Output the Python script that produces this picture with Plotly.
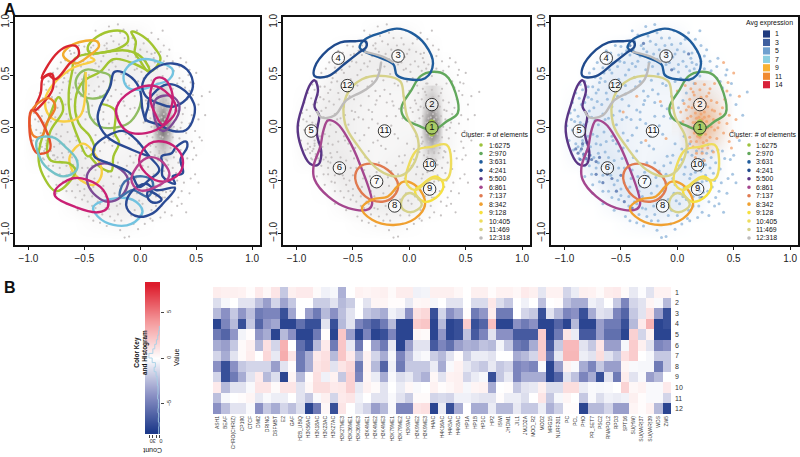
import plotly.graph_objects as go

W, H = 800, 457

# panel A: dots (cool = low expression, warm = high)
cool_dots = [
(-0.98,0.02),(-0.95,0.14),(-0.96,-0.12),(-0.93,0.24),(-0.92,-0.21),(-0.90,0.33),(-0.89,-0.05),(-0.88,0.11),(-0.87,-0.29),(-0.86,0.41),
(-0.85,0.22),(-0.84,-0.17),(-0.83,0.03),(-0.82,-0.36),(-0.81,0.31),(-0.80,0.48),(-0.79,-0.08),(-0.78,0.16),(-0.77,-0.26),(-0.76,-0.44),
(-0.75,0.39),(-0.74,0.56),(-0.73,0.07),(-0.72,-0.15),(-0.71,0.25),(-0.70,-0.33),(-0.69,-0.51),(-0.68,0.47),(-0.67,0.64),(-0.66,0.13),
(-0.65,-0.04),(-0.64,-0.23),(-0.63,0.33),(-0.62,-0.42),(-0.61,-0.60),(-0.60,0.55),(-0.59,0.71),(-0.58,0.20),(-0.57,-0.12),(-0.56,-0.31),
(-0.55,0.42),(-0.54,0.03),(-0.53,-0.50),(-0.52,-0.68),(-0.51,0.63),(-0.50,0.77),(-0.49,0.27),(-0.48,-0.19),(-0.47,-0.38),(-0.46,0.50),
(-0.45,0.10),(-0.44,-0.58),(-0.43,-0.74),(-0.42,0.69),(-0.41,0.35),(-0.40,-0.07),(-0.39,-0.28),(-0.38,0.82),(-0.37,0.58),(-0.36,0.17),
(-0.35,-0.46),(-0.34,-0.82),(-0.33,0.44),(-0.32,-0.14),(-0.31,-0.65),(-0.30,0.75),(-0.29,0.26),(-0.28,0.04),(-0.27,-0.33),(-0.26,0.87),
(-0.25,0.62),(-0.24,-0.53),(-0.23,-0.88),(-0.22,0.36),(-0.21,-0.20),(-0.20,0.11),(-0.19,0.79),(-0.18,-0.72),(-0.17,0.51),(-0.16,-0.41),
(-0.15,0.93),(-0.14,0.21),(-0.13,-0.06),(-0.12,-0.60),(-0.11,0.68),(-0.10,0.40),(-0.09,-0.27),(-0.08,-0.83),(-0.07,0.85),(-0.06,0.09),
(-0.05,0.30),(-0.04,-0.48),(-0.03,0.56),(-0.02,-0.15),(-0.01,-0.69),(0.00,0.74),(0.01,0.19),(0.02,-0.36),(0.03,0.47),(0.04,-0.91),
(0.05,0.63),(0.06,-0.57),(0.07,0.84),(0.08,0.33),(0.09,-0.23),(0.10,-0.78),(0.11,0.54),(0.12,-0.44),(0.13,0.71),(0.14,-0.65),
(0.15,0.42),(0.16,-0.31),(0.17,0.60),(0.18,-0.52),(0.19,-0.74),(0.20,0.49),(0.21,-0.41),(0.22,-0.23),(0.23,-0.61),(0.24,0.56),
(0.25,-0.35),(0.26,-0.50),(0.27,-0.16),(0.28,-0.70),(0.29,0.63),(0.30,-0.28),(0.31,-0.56),(0.32,-0.43),(0.34,-0.66),(0.35,0.47),
(0.36,-0.21),(0.38,-0.39),(0.39,-0.52),(0.40,0.38),(0.42,-0.29),(0.44,-0.62),(0.47,0.31),(0.49,-0.44),(0.62,0.34),(0.55,-0.12),
(-0.91,0.06),(-0.86,-0.22),(-0.83,-0.27),(-0.80,-0.31),(-0.88,-0.18),(-0.84,-0.12),(-0.78,-0.36),(-0.74,-0.28),(-0.72,-0.38),(-0.70,-0.24),
(-0.76,0.27),(-0.70,0.36),(-0.64,0.44),(-0.58,0.52),(-0.52,0.46),(-0.47,0.62),(-0.40,0.61),(-0.33,0.68),(-0.27,0.72),(-0.21,0.70),
(-0.16,0.74),(-0.10,0.60),(-0.04,0.67),(0.01,0.60),(-0.44,0.76),(-0.52,0.69),(-0.60,0.62),(-0.66,0.57),(-0.73,0.48),(-0.79,0.39),
(-0.66,-0.60),(-0.58,-0.66),(-0.50,-0.58),(-0.43,-0.65),(-0.36,-0.72),(-0.28,-0.77),(-0.20,-0.82),(-0.12,-0.75),(-0.05,-0.78),(0.02,-0.62),
(-0.75,-0.54),(-0.66,-0.45),(-0.58,-0.38),(-0.49,-0.29),(-0.41,-0.48),(-0.33,-0.55),(-0.26,-0.46),(-0.18,-0.55),(-0.10,-0.44),(-0.02,-0.54),
(0.06,-0.44),(0.13,-0.55),(0.08,-0.68),(0.17,-0.63),(0.04,-0.30),(0.11,-0.15),(0.06,-0.08),(-0.30,0.35),(-0.43,0.21),(-0.36,0.00),
(-0.24,-0.08),(-0.49,0.08),(-0.17,0.32),(-0.12,0.11),(-0.02,0.44),(0.05,0.26),(0.03,0.05),(-0.58,-0.08),(-0.52,-0.22),(-0.43,-0.36),
(-0.61,0.09),(-0.53,0.30),(-0.46,0.40),(-0.38,0.48),(-0.23,0.45),(-0.11,0.50),(-0.33,0.15),(-0.20,-0.33),(-0.06,-0.33),(0.13,0.62),
(-0.30,-0.93),(-0.18,-0.97),(-0.10,-1.03),(-0.14,-1.04),(-0.42,-0.88),(0.18,-0.85),(0.28,-0.83),(0.37,-0.72),(0.21,0.78),(0.20,0.92),
(0.36,0.66),(0.44,0.55),(0.10,0.90),(-0.28,0.96),(-0.20,0.98),(-0.40,0.92),(0.58,0.12),(0.52,0.22),(0.47,-0.30),(0.41,-0.80),
(-0.94,0.08),(-0.93,-0.02),(-0.91,0.17),(-0.90,-0.15),(-0.87,0.28),(-0.86,0.05),(-0.85,-0.08),(-0.84,0.36),(-0.82,0.24),(-0.81,-0.14),
(-0.80,0.06),(-0.79,0.29),(-0.77,-0.18),(-0.76,0.10),(-0.75,-0.06),(-0.74,0.19),(-0.72,0.33),(-0.71,-0.08),(-0.70,0.03),(-0.69,0.43),
(-0.68,-0.16),(-0.67,0.22),(-0.66,-0.36),(-0.65,0.52),(-0.64,0.08),(-0.63,-0.13),(-0.62,0.27),(-0.61,-0.28),(-0.60,0.38),(-0.59,-0.45),
(-0.58,0.62),(-0.57,0.12),(-0.56,-0.54),(-0.55,0.34),(-0.54,-0.15),(-0.53,0.58),(-0.52,-0.38),(-0.51,0.16),(-0.50,-0.64),(-0.49,0.70),
(-0.48,-0.05),(-0.47,-0.52),(-0.46,0.32),(-0.45,0.73),(-0.44,-0.12),(-0.43,0.55),(-0.42,-0.56),(-0.41,0.08),(-0.40,-0.40),(-0.39,0.74),
(-0.38,-0.70),(-0.37,0.39),(-0.36,-0.22),(-0.35,0.63),(-0.34,-0.60),(-0.33,0.08),(-0.32,0.78),(-0.31,-0.76),(-0.30,0.22),(-0.29,-0.42),
(-0.28,0.55),(-0.27,-0.84),(-0.26,0.30),(-0.25,-0.17),(-0.24,0.82),(-0.23,-0.62),(-0.22,0.58),(-0.21,-0.74),(-0.20,0.24),(-0.19,-0.47),
(-0.18,0.65),(-0.17,-0.88),(-0.16,0.02),(-0.15,-0.66),(-0.14,0.85),(-0.13,0.42),(-0.12,-0.36),(-0.11,0.78),(-0.10,-0.52),(-0.09,0.18),
(-0.08,-0.68),(-0.07,0.62),(-0.06,-0.91),(-0.05,0.79),(-0.04,-0.26),(-0.03,-0.62),(-0.02,0.70),(-0.01,-0.40),(0.00,-0.83),(0.01,0.53),
(0.02,-0.72),(0.03,0.80),(0.04,-0.20),(0.05,-0.65),(0.06,0.72),(0.07,-0.37),(0.08,0.58),(0.09,-0.86),(0.10,0.45),(0.11,-0.48),
(0.12,0.66),(0.13,-0.26),(0.14,-0.74),(0.15,0.56),(0.16,-0.42),(0.17,-0.22),(0.18,0.72),(0.19,-0.31),(0.20,-0.66),(0.21,0.63),
(0.22,-0.51),(0.23,-0.30),(0.24,0.68),(0.25,-0.45),(0.26,-0.24),(0.27,-0.60),(0.29,-0.38),(0.30,0.54),(0.31,-0.22),(0.33,-0.50),
(0.34,-0.33),(0.35,0.58),(0.37,-0.60),(0.38,0.44),(0.40,-0.22),(0.43,0.50),(0.45,-0.48),(0.50,-0.26),(0.52,-0.52),(0.48,0.42),
(-0.82,0.44),(-0.78,0.52),(-0.71,0.62),(-0.63,0.73),(-0.55,0.78),(-0.35,0.88),(-0.18,0.90),(-0.03,0.92),(0.16,0.84),(0.26,0.74),
(-0.82,-0.46),(-0.75,-0.62),(-0.66,-0.72),(-0.56,-0.78),(-0.46,-0.84),(-0.36,-0.90),(-0.02,-0.96),(0.11,-0.88),(0.22,-0.80),(0.33,-0.74),
]
warm_dots = [
(0.20,0.05),(0.18,0.02),(0.22,0.08),(0.17,0.09),(0.23,0.01),(0.19,-0.03),(0.21,0.13),(0.16,0.14),(0.24,0.15),(0.20,0.19),
(0.14,0.05),(0.26,0.06),(0.15,-0.05),(0.25,-0.06),(0.20,-0.09),(0.17,-0.13),(0.23,-0.14),(0.19,-0.19),(0.22,-0.24),(0.12,0.11),
(0.28,0.11),(0.13,0.19),(0.27,0.20),(0.18,0.25),(0.23,0.26),(0.15,0.31),(0.26,0.30),(0.20,0.36),(0.11,0.27),(0.30,0.26),
(0.10,0.01),(0.30,0.01),(0.09,0.09),(0.32,0.08),(0.11,-0.09),(0.29,-0.09),(0.33,0.16),(0.08,0.17),(0.35,0.24),(0.06,0.23),
(0.33,-0.02),(0.37,0.05),(0.05,0.06),(0.38,0.13),(0.40,0.19),(0.35,-0.10),(0.41,-0.05),(0.44,0.04),(0.46,0.12),(0.42,0.27),
(0.29,0.37),(0.24,0.41),(0.16,0.42),(0.33,0.42),(0.12,0.37),(0.03,0.15),(0.46,-0.13),(0.49,-0.03),(0.52,0.08),(0.45,0.43),
(0.50,0.52),(0.41,0.62),(0.14,-0.18),(0.27,-0.19),(0.09,-0.17),(0.32,-0.23),(0.16,-0.28),(0.24,-0.31),(0.48,-0.19),(0.53,-0.09),
(-0.05,0.19),(-0.15,0.25),(-0.28,-0.12),(0.00,0.35),(-0.36,0.30),(-0.10,-0.10),(0.07,0.40),(-0.48,0.15),(0.44,0.35),(0.55,0.30),
(0.19,0.10),(0.21,0.03),(0.16,0.05),(0.24,0.10),(0.18,-0.08),(0.22,-0.03),(0.15,0.22),(0.25,0.23),(0.21,0.29),(0.13,0.00),
(0.27,0.00),(0.31,0.17),(0.10,0.20),(0.36,0.00),(0.28,0.33),(0.14,0.34),(0.22,-0.19),(0.17,-0.24),(0.26,-0.12),(0.12,-0.13),
]
dark_dots = [
(-0.88,-0.24),(-0.85,-0.20),(-0.83,-0.25),(-0.80,-0.22),(-0.86,-0.30),(-0.81,-0.29),(-0.78,-0.26),(-0.76,-0.30),(-0.72,-0.32),(-0.69,-0.28),
(-0.84,-0.15),(-0.90,-0.20),(-0.62,-0.44),(-0.58,-0.48),(-0.54,-0.60),(-0.47,-0.70),(-0.40,-0.76),(-0.60,-0.35),(-0.66,-0.52),(-0.42,0.78),
(-0.30,0.80),(-0.10,0.72),(-0.05,0.55),(0.10,0.70),(0.20,-0.60),(0.22,-0.66),(0.18,-0.55),(-0.62,0.70),(-0.50,-0.45),(-0.72,-0.44),
]

# smoothed dot density, 0 to 10, estimated by eye on a 0.15 grid
density_x = [-1.05,-0.90,-0.75,-0.60,-0.45,-0.30,-0.15,0.00,0.15,0.30,0.45,0.60]
density_y = [1.05,0.90,0.75,0.60,0.45,0.30,0.15,0.00,-0.15,-0.30,-0.45,-0.60,-0.75,-0.90,-1.05]
density_z = [
[0,0,0,0,0,0,0,0,0,0,0,0],
[0,0,0,0,0,2,3,2,0,0,0,0],
[0,0,0,1,4,5,6,6,3,0,0,0],
[0,0,1,5,6,6,7,5,5,1,0,0],
[0,0,3,6,6,4,4,4,5,3,0,0],
[0,1,5,6,5,3,3,3,6,4,1,0],
[0,3,6,6,4,3,3,3,7,4,1,0],
[0,4,7,6,4,3,3,3,7,4,1,0],
[0,4,7,6,4,3,3,4,6,4,1,0],
[0,2,6,7,5,3,4,5,6,4,0,0],
[0,0,4,7,6,5,5,5,6,3,0,0],
[0,0,1,5,7,6,6,6,5,1,0,0],
[0,0,0,2,5,6,6,6,3,0,0,0],
[0,0,0,0,1,2,3,1,0,0,0,0],
[0,0,0,0,0,0,0,0,0,0,0,0],
]
core_x = [0.10,0.15,0.20,0.25,0.30]
core_y = [0.35,0.25,0.15,0.05,-0.05,-0.15,-0.25]
core_z = [
[0,0.1,0.2,0.1,0],
[0,0.2,0.4,0.2,0],
[0,0.35,0.7,0.35,0],
[0,0.6,1,0.6,0],
[0,0.5,0.9,0.5,0],
[0,0.25,0.5,0.25,0],
[0,0.1,0.2,0.1,0],
]
warm_x = [0.0,0.1,0.2,0.3,0.4,0.5]
warm_y = [0.4,0.3,0.2,0.1,0.0,-0.1,-0.2,-0.3]
warm_z = [
[0,0.1,0.2,0.1,0.05,0],
[0,0.15,0.35,0.2,0.1,0],
[0,0.2,0.55,0.4,0.15,0],
[0.05,0.3,0.8,0.6,0.2,0],
[0.05,0.3,0.9,0.6,0.2,0],
[0,0.2,0.7,0.4,0.15,0],
[0,0.1,0.3,0.15,0.05,0],
[0,0,0.05,0,0,0],
]

# cluster outlines of the middle and right panels
c1 = [(0.20,0.07),(0.24,0.0),(0.20,-0.07),(0.16,0.0)]
c2 = [(0.20,0.53),(0.32,0.50),(0.41,0.33),(0.43,0.14),(0.33,0.06),(0.21,-0.02),(0.08,0.02),(-0.04,0.09),(-0.07,0.19),(0.02,0.36),(0.10,0.49)]
c3 = [(-0.11,0.94),(0.02,0.90),(0.14,0.79),(0.21,0.61),(0.14,0.47),(-0.01,0.46),(-0.11,0.50),(-0.14,0.60),(-0.25,0.66),(-0.39,0.72),(-0.44,0.76),(-0.39,0.84),(-0.25,0.90)]
c4 = [(-0.39,0.82),(-0.38,0.77),(-0.45,0.71),(-0.57,0.61),(-0.72,0.49),(-0.84,0.49),(-0.84,0.57),(-0.72,0.74),(-0.61,0.81),(-0.48,0.82)]
c5 = [(-0.84,0.45),(-0.81,0.36),(-0.84,0.20),(-0.80,0.12),(-0.82,-0.05),(-0.78,-0.24),(-0.81,-0.35),(-0.88,-0.34),(-0.96,-0.18),(-0.99,0.01),(-0.94,0.23),(-0.88,0.41)]
c6 = [(-0.72,0.07),(-0.64,0.04),(-0.54,-0.11),(-0.44,-0.34),(-0.33,-0.72),(-0.36,-0.77),(-0.54,-0.76),(-0.72,-0.65),(-0.84,-0.49),(-0.85,-0.37),(-0.79,-0.18),(-0.76,-0.02)]
c7 = [(-0.33,-0.34),(-0.19,-0.40),(-0.10,-0.54),(-0.14,-0.65),(-0.24,-0.70),(-0.39,-0.65),(-0.48,-0.48),(-0.44,-0.37)]
c8 = [(-0.05,-0.51),(0.07,-0.56),(0.14,-0.72),(0.05,-0.86),(-0.14,-0.92),(-0.33,-0.87),(-0.42,-0.76),(-0.33,-0.68),(-0.19,-0.65),(-0.11,-0.56)]
c9 = [(0.23,-0.46),(0.30,-0.53),(0.26,-0.64),(0.13,-0.70),(0.05,-0.60),(0.11,-0.54)]
c10 = [(0.20,-0.18),(0.33,-0.16),(0.37,-0.30),(0.33,-0.49),(0.20,-0.48),(0.05,-0.59),(-0.03,-0.51),(0.0,-0.34),(0.07,-0.21)]
c11 = [(-0.21,0.49),(-0.08,0.44),(-0.05,0.30),(-0.02,0.11),(0.07,-0.08),(0.08,-0.21),(0.0,-0.40),(-0.11,-0.46),(-0.27,-0.40),(-0.45,-0.18),(-0.57,0.04),(-0.56,0.30),(-0.42,0.46)]
c11b = [(0.02,-0.62),(0.11,-0.73),(0.01,-0.80),(-0.07,-0.75),(-0.05,-0.65)]
c12a = [(-0.14,0.62),(-0.25,0.68),(-0.40,0.72)]
c12b = [(-0.25,0.62),(-0.29,0.46),(-0.39,0.36),(-0.56,0.26),(-0.66,0.12),(-0.78,0.10),(-0.82,0.16)]

cluster_names = ["1:6275","2:970","3:631","4:241","5:500","6:861","7:137","8:342","9:128","10:405","11:469","12:318"]
cluster_colors = ["#9cc23c","#62a85c","#1f5c9c","#1f4a8c","#5a3585","#a4468e","#e07a50","#f0a030","#f6e03e","#eedc5c","#d6d28a","#bdbbbb"]
cluster_centers_x = [0.20,0.20,-0.10,-0.63,-0.87,-0.62,-0.29,-0.13,0.18,0.18,-0.22,-0.55]
cluster_centers_y = [0.0,0.22,0.68,0.66,-0.03,-0.38,-0.51,-0.74,-0.58,-0.35,-0.03,0.40]
outlines = [(c1,0,True),(c2,1,True),(c3,2,True),(c4,3,True),(c5,4,True),(c6,5,True),(c7,6,True),(c8,7,True),(c9,8,True),(c10,9,True),
            (c11,10,True),(c11b,10,True),(c12a,11,False),(c12b,11,False)]

# left panel, every outline drawn over each other
lime, sage, yellow, amber, red, orange, teal, crimson, plum, sky, navy, steel = (
    "#a2c530","#90bd62","#f8ce44","#f2ad2e","#d9252f","#ee7f2a","#74c2c8","#c92074","#7d4b95","#72c3e0","#2a4a94","#3f6fa8")
left_outlines = [
([(-0.47,0.76),(-0.39,0.86),(-0.24,0.92),(-0.13,0.90),(-0.11,0.82),(-0.18,0.76),(-0.36,0.71),(-0.45,0.71)],lime,True),
([(-0.08,0.91),(0.02,0.87),(0.14,0.74),(0.18,0.65),(0.08,0.53),(-0.01,0.65),(-0.05,0.71),(-0.04,0.82)],lime,True),
([(-0.58,0.66),(-0.36,0.71),(-0.11,0.73),(0.02,0.66),(0.08,0.54),(-0.04,0.60),(-0.24,0.65),(-0.36,0.53),(-0.51,0.44),(-0.58,0.27),(-0.55,0.04),(-0.45,-0.08),(-0.41,-0.21),(-0.47,-0.27),(-0.55,-0.11),(-0.63,0.14),(-0.64,0.33),(-0.61,0.53)],lime,True),
([(-0.36,0.53),(-0.27,0.49),(-0.30,0.33),(-0.39,0.28),(-0.51,0.30),(-0.57,0.38),(-0.57,0.47),(-0.49,0.55)],sage,True),
([(-0.49,0.53),(-0.51,0.36),(-0.47,0.23),(-0.45,0.11),(-0.36,0.01),(-0.24,0.0),(-0.11,0.04),(-0.02,0.16),(0.01,0.27)],sage,False),
([(-0.36,0.23),(-0.23,0.17),(-0.23,-0.05),(-0.19,-0.14),(-0.24,-0.27),(-0.26,-0.41),(-0.36,-0.37),(-0.45,-0.27)],lime,False),
([(-0.45,0.67),(-0.41,0.64),(-0.60,0.57),(-0.78,0.41),(-0.85,0.27),(-0.81,0.11),(-0.69,0.06),(-0.54,0.11),(-0.49,0.33),(-0.49,0.53)],yellow,False),
([(-0.69,0.69),(-0.60,0.79),(-0.39,0.82),(-0.37,0.77),(-0.45,0.69),(-0.58,0.61)],amber,True),
([(-0.63,-0.27),(-0.51,-0.15),(-0.36,-0.34),(-0.35,-0.46),(-0.42,-0.54),(-0.54,-0.49),(-0.61,-0.40)],yellow,True),
([(-0.73,0.29),(-0.69,0.17),(-0.81,-0.05),(-0.81,-0.30),(-0.63,-0.34),(-0.58,-0.41),(-0.75,-0.60),(-0.87,-0.45),(-0.91,-0.26),(-0.82,0.08)],lime,True),
([(-0.88,0.47),(-0.76,0.69),(-0.66,0.77),(-0.57,0.77),(-0.55,0.69),(-0.63,0.61),(-0.76,0.46),(-0.82,0.50)],red,True),
([(-0.87,0.47),(-0.79,0.51),(-0.78,0.38),(-0.84,0.27),(-0.95,0.16),(-0.89,0.33)],red,True),
([(-0.92,0.23),(-0.81,0.28),(-0.76,0.20),(-0.84,0.04),(-0.88,-0.08),(-0.95,-0.08),(-0.99,0.04),(-0.98,0.14)],orange,True),
([(-0.97,0.17),(-0.87,0.04),(-0.81,-0.21),(-0.92,-0.24),(-0.98,-0.11)],"#e5502c",True),
([(-0.92,-0.11),(-0.78,-0.09),(-0.67,-0.18),(-0.57,-0.30),(-0.57,-0.40),(-0.69,-0.46),(-0.81,-0.40),(-0.89,-0.30)],teal,True),
([(-0.42,-0.75),(-0.24,-0.67),(-0.07,-0.68),(0.02,-0.79),(-0.08,-0.91),(-0.24,-0.92),(-0.38,-0.84)],sky,True),
([(-0.47,-0.43),(-0.36,-0.34),(-0.21,-0.37),(-0.11,-0.49),(-0.17,-0.65),(-0.29,-0.70),(-0.39,-0.65),(-0.47,-0.53)],plum,True),
([(-0.76,-0.59),(-0.61,-0.48),(-0.48,-0.49),(-0.33,-0.59),(-0.29,-0.75),(-0.38,-0.80),(-0.58,-0.75),(-0.76,-0.65)],crimson,True),
([(-0.18,-0.65),(-0.14,-0.51),(0.02,-0.46),(0.11,-0.51),(0.07,-0.65),(-0.07,-0.59)],steel,True),
([(-0.09,-0.62),(0.05,-0.53),(0.14,-0.59),(0.31,-0.57),(0.20,-0.72),(0.11,-0.81),(-0.02,-0.84),(-0.12,-0.76)],navy,True),
([(0.07,-0.60),(0.19,-0.68),(0.13,-0.71),(0.07,-0.67)],navy,True),
([(0.19,-0.27),(0.28,-0.24),(0.32,-0.18),(0.41,-0.13),(0.42,-0.18),(0.36,-0.30),(0.38,-0.43),(0.29,-0.46),(0.31,-0.53),(0.20,-0.46),(0.20,-0.34)],navy,True),
([(-0.41,-0.18),(-0.30,-0.08),(-0.15,-0.03),(-0.04,-0.11),(0.08,-0.27),(0.17,-0.40),(0.08,-0.49),(-0.01,-0.56),(-0.09,-0.43),(-0.27,-0.34),(-0.41,-0.27)],navy,True),
([(0.05,0.06),(0.02,0.17),(-0.01,0.38),(-0.11,0.50),(-0.23,0.53),(-0.27,0.39),(-0.36,0.20),(-0.38,0.08),(-0.30,-0.08),(-0.07,-0.21),(0.08,-0.27)],navy,False),
([(-0.12,0.57),(0.02,0.65),(0.20,0.61),(0.29,0.55),(0.26,0.46),(0.14,0.41),(-0.01,0.36),(-0.11,0.38),(-0.15,0.47)],sky,True),
([(0.02,0.42),(0.14,0.57),(0.29,0.61),(0.42,0.55),(0.47,0.39),(0.41,0.27),(0.29,0.20),(0.17,0.23),(0.05,0.30)],navy,True),
([(0.08,0.27),(0.23,0.41),(0.36,0.38),(0.48,0.23),(0.48,0.11),(0.41,-0.02),(0.29,-0.03),(0.17,0.03),(0.05,0.08),(0.07,0.20)],navy,True),
([(0.14,0.27),(0.28,0.30),(0.35,0.20),(0.29,0.04),(0.20,-0.03),(0.13,0.08)],plum,True),
([(-0.21,0.20),(-0.09,0.34),(0.11,0.40),(0.26,0.31),(0.32,0.17),(0.23,0.04),(0.05,-0.05),(-0.12,-0.03),(-0.21,0.11)],crimson,True),
([(0.14,0.47),(0.22,0.46),(0.29,0.30),(0.26,0.14),(0.20,0.03),(0.13,0.14),(0.09,0.27),(0.11,0.42)],crimson,True),
([(-0.01,-0.30),(0.08,-0.15),(0.20,-0.13),(0.32,-0.19),(0.38,-0.30),(0.35,-0.43),(0.20,-0.51),(0.05,-0.43)],crimson,True),
([(-0.08,-0.49),(0.05,-0.29),(0.17,-0.30),(0.26,-0.45),(0.14,-0.56),(-0.01,-0.59)],"#b8408e",True),
]

expr_labels = ["1","3","5","7","9","11","14"]
expr_colors = ["#1f3a7e","#3f5f9f","#6fa0cf","#8ccfe0","#f9b233","#f08a30","#d8223a"]

# panel B
marks = ["ASH1","BEAF","CHRO(CHRIZ)","CP190","CTCF","DMI2","DRING","DSFMBT","E2","GAF","H2B_UBIQ","H3K56AC","H3K18AC","H3K23AC","H3K27AC",
         "H3K27ME3","H3K36ME1","H3K36ME3","H3K4ME1","H3K4ME2","H3K4ME3","H3K79ME1","H3K79ME2","H3K9AC","H3K9ME2","H3K9ME3","H4AC","H4K16AC",
         "H4K5AC","H4K8AC","HP1A","HP1B","HP1C","HP2","ISWI","JHDM1","JIL1","JMJD2A","MOD_R2","MOD2","MRG15","NURF301","PC","PCL","PHO",
         "PR_SET7","PSC2","RNAPOL2","RPD3","SPT16","SU(HW)","SU(VAR)37","SU(VAR)39","WDS","ZW5"]
rows = ["1","2","3","4","5","6","7","8","9","10","11","12"]
heat = [
[.7,.6,.6,.5,.1,.8,.3,1,-2,.6,.8,.8,.2,-.5,-.3,-2.8,0,.5,.4,.5,.6,.2,.7,.7,-.5,-.4, .6,.6,.6,.3,0,.6,.6,.1,.5,.5,.3,.8,.6,-.9,.5,.5,-1.5,-.7,.6,.5,.2,.7,.8,.2,-.8,-.1,-1,.5,.5],
[-1.2,-.3,0,-1,-1,-2.3,-3.5,-1.5,-3.3,-2,0,0,-1.8,-1.8,-1,-2.5,-1.8,0,-1,.4,.4,.1,.1,-.8,.3,.4, -.3,0,-1,-1,0,-1.3,-1.3,.9,-1.2,-2,0,-.5,0,-2.3,0,.1,-2.2,-3,-3,-.5,-.9,0,-2,-4.5,-1.5,-1,.4,-.2,-2.5],
[-2.5,-4,-2,-3.8,-2.3,-5,-4.5,-4.5,-7,-3.2,0,-3.5,-5,-2.5,-4,-2.3,-1,0,-2,-2.5,-3,-.5,-1,-4,1.2,1.5, -7,-1.5,-4,-3,.1,-5,-3.8,.7,-5,-5,0,-1.5,-2,-7,-1,-2.5,-4.5,-4,-7,-3,-1,-1.3,-4.5,-6,-2,-1,1.2,-3.5,-7],
[-7.5,-4.5,-2.5,-7,-2,-6,-3.8,-3.2,-7.5,-7.5,-5.5,-7,-7,-1,-7,-2.5,-1,-4.5,-5.5,-6.5,-5,-2.5,-7.5,-7.5,2,2.2, -7.5,-2.5,-7.5,-7,2,-7,-6,2.5,-7.5,-7.5,-4,-5,-4,-7.5,-7.5,-6,-7.5,-2.5,-7.5,-7.5,-3.5,-5,-5,-7,-2.5,.8,3,-7.5,-7],
[-5,-6,-3.8,-.4,.1,-3.8,-3,-7.5,-2.5,-4,-7.5,-7.5,-5,.1,-7.5,2.2,-3.5,-7.5,-4.5,-7.5,-7,-4.5,-7.5,-7.5,.3,.2, -7.5,-3.8,-7.5,-7,-2.2,-6.5,-4.5,-1,-4,-4,-6.5,-6.5,-6.5,2,-7.5,-5,1,-.7,-6.5,-6.5,-3.5,-5.5,-5.5,-7.5,1.8,-1.5,.5,-7.5,-7.5],
[-3,-3.5,-2,.2,.6,-2.5,1.2,-1.5,3,0,-5.5,-7,-2.5,.8,-5,2.2,-.8,-5,0,-3.5,-5,-.8,-7.5,-3.5,-1,-1, -6.5,-4.5,-5.5,-3.5,-2.8,-3,-2.2,-2.5,-.4,-2,-5,-5.5,-3,2,-6.5,-2,2.7,2.7,-1,-2,1,-3.5,-3.5,-.3,2,.6,-1,-4.5,-4],
[-1.5,-3,-1,.2,.7,0,1.5,-.8,3.2,1,-5,-3,.8,1.2,-2.5,2.2,.8,-2.5,.5,-1.5,-3,-.3,-4.5,-2.3,-.5,-.2, -1.8,-2.5,-1,.1,-1.8,-.7,-.7,-1,0,0,-3,-2.5,-1.5,2,-5,-.8,2.8,2.8,-.6,-1,1.3,-1,-2,1.2,2,0,-.3,-2,-2],
[-4,-7,-4,-2,-1.5,-1.5,-1.5,-3.5,-1,.1,-5,-3,1,1.3,-1,1,1.5,-5,.5,-2.5,-6,-.5,-5,-2,-2,-2, -.7,-3,-.2,.5,-.8,-1.5,-2,-.8,-2,-1.5,-4.5,-4,-4.5,-.2,-7.5,-3.5,.5,-.2,-3,-4.5,-2,-3.5,-3.5,.4,-.2,-.3,-.3,-5,-2],
[-1.5,-7,-5,-3,-1,.8,-2.5,-1.2,-7.5,.4,-2.5,.1,1.2,-.5,.5,-2,1.8,-4.5,.4,-.7,-3,-.2,-1.2,-.8,-2,-2.8, .3,-1,.5,.6,-1.5,-.7,-.3,-7,-2,-.8,-4.5,-3,-3,-3,-7.5,-6,-1,-2.2,-4.5,-3,-7,-1,-5,.7,-1,-.2,-3.5,-2.5,0],
[.8,-2.5,-1,-1,-.2,1,1,.2,1,1,-1,.3,1.3,1.3,.8,.9,1.8,-.8,.5,.2,-1,0,-.7,.3,-.2,0, .5,.1,.3,.6,-.3,.4,.5,-3,0,.1,-2,-1,-.8,.6,-1.2,-1.2,1.3,1.3,-.7,-.2,-.3,-.2,0,1.7,.3,.5,-.2,-.2,.8],
[-2.3,-.3,0,.1,.4,-.8,-.2,-.6,-.6,0,-1,-2,-.2,.6,-1.5,.8,1,-.5,0,-1,-1,-.2,-1,-1.8,.2,.2, -1.5,-1.3,-1.5,-.5,-.5,-.8,-1,-1,.1,-.6,-.6,-1.2,0,1,-2,-.3,.4,0,-2,-.2,-1.2,-.5,-.7,-.5,.6,.1,-.2,-.2,-1.5],
[-4,-2.3,-1,-1,-.2,-4,-2,-3,-1.5,-2.3,-1.2,-7.5,-5,.3,-7,1,0,-.8,-1.5,-3.5,-2.5,-.2,-4.5,-4.5,1,1.2, -7.5,-.7,-7,-3,0,-3,-3,-.7,-2.5,-2.5,-.8,-2,-2,-.6,-2.8,-1.7,.1,.1,-7.5,-2.5,-2.5,-1.5,-3.5,-3.5,.4,.1,.5,-2.5,-7.5],
]
key_values = [-8.3,-6,-4,-2,0,2,4,6,8.3]
hist_values = [-8.3,-7.5,-7,-6.5,-6,-5.5,-5,-4.5,-4,-3.5,-3,-2.5,-2,-1.5,-1,-0.5,0,0.5,1,1.5,2,2.5,3,3.5]
hist_counts = [1,2,1,3,2,4,3,3,5,4,4,6,7,10,16,12,22,32,20,14,9,5,2,0]
heat_scale = [[0,"#1d3a8a"],[0.25,"#8a90c4"],[0.5,"#ffffff"],[0.75,"#f4989a"],[1,"#dd1c2c"]]


def dom_x(a, b):
    return [a / W, b / W]


def dom_y(top, bottom):
    return [1 - bottom / H, 1 - top / H]


FONT = "Liberation Sans"
fig = go.Figure()


def add_dots(ax, dots, color, size, opacity=1.0):
    fig.add_trace(go.Scatter(x=[p[0] for p in dots], y=[p[1] for p in dots], mode="markers", xaxis="x" + ax, yaxis="y" + ax,
                             marker=dict(color=color, size=size, line=dict(width=0)), opacity=opacity, showlegend=False, hoverinfo="skip"))


def add_density(ax, x, y, z, color, zmax=1.0):
    fig.add_trace(go.Heatmap(x=x, y=y, z=z, xaxis="x" + ax, yaxis="y" + ax, zsmooth="best", zmin=0, zmax=zmax, showscale=False,
                             colorscale=[[0, "rgba(%s,0)" % color[0]], [1, "rgba(%s,%s)" % (color[0], color[1])]], hoverinfo="skip"))


def add_outline(ax, pts, color, closed):
    p = pts + pts[:1] if closed else pts
    fig.add_trace(go.Scatter(x=[q[0] for q in p], y=[q[1] for q in p], mode="lines", xaxis="x" + ax, yaxis="y" + ax,
                             line=dict(color=color, width=2.4, shape="spline", smoothing=1.1), showlegend=False, hoverinfo="skip"))


def add_badges(ax):
    fig.add_trace(go.Scatter(x=cluster_centers_x, y=cluster_centers_y, mode="markers+text", xaxis="x" + ax, yaxis="y" + ax,
                             text=[str(i + 1) for i in range(12)], textposition="middle center",
                             textfont=dict(family=FONT, size=9.5, color="#111"),
                             marker=dict(size=12.5, color=["#a8cc66"] + ["rgba(255,255,255,0.65)"] * 11, line=dict(color="#222", width=0.9)),
                             showlegend=False, hoverinfo="skip"))


all_dots = cool_dots + warm_dots + dark_dots

# left panel
add_density("", density_x, density_y, density_z, ("190,186,186", 0.42), 10)
add_density("", core_x, core_y, core_z, ("105,100,100", 0.9))
add_dots("", all_dots, "#c6c2c2", 2.2)
for pts, col, closed in left_outlines:
    add_outline("", pts, col, closed)

# middle panel
add_density("2", density_x, density_y, density_z, ("190,186,186", 0.42), 10)
add_density("2", core_x, core_y, core_z, ("105,100,100", 0.9))
add_dots("2", all_dots, "#c6c2c2", 2.2)
for pts, i, closed in outlines:
    add_outline("2", pts, cluster_colors[i], closed)
add_badges("2")

# right panel
add_density("3", density_x, density_y, density_z, ("120,160,210", 0.32), 10)
add_density("3", warm_x, warm_y, warm_z, ("240,150,80", 0.75))
add_dots("3", cool_dots, "#7ba8d4", 3.0, 0.65)
add_dots("3", warm_dots, "#f2a06a", 3.0, 0.75)
add_dots("3", dark_dots, "#3f62a4", 3.2, 0.7)
for pts, i, closed in outlines:
    add_outline("3", pts, cluster_colors[i], closed)
add_badges("3")

# heatmap and colour key
fig.add_trace(go.Heatmap(x=marks, y=rows, z=heat, xaxis="x4", yaxis="y4", zmin=-8, zmax=8, colorscale=heat_scale, showscale=False, hoverinfo="skip"))
fig.add_trace(go.Heatmap(x=[-2, 44], y=key_values, z=[[v, v] for v in key_values], xaxis="x5", yaxis="y5", zsmooth="best", zmin=-8, zmax=8,
                         colorscale=heat_scale, showscale=False, hoverinfo="skip"))
fig.add_trace(go.Scatter(x=hist_counts, y=hist_values, mode="lines", xaxis="x5", yaxis="y5", line=dict(color="#a6d0e6", width=0.9, shape="hv"),
                         showlegend=False, hoverinfo="skip"))

panel_axis = dict(showline=True, mirror=True, linewidth=1.8, linecolor="#111", ticks="outside", ticklen=3, tickwidth=1, tickcolor="#111",
                  showgrid=False, zeroline=False, automargin=False, tickvals=[-1, -0.5, 0, 0.5, 1], tickformat=".1f",
                  tickfont=dict(family=FONT, size=10, color="#222"))
lay = dict(template="none", width=W, height=H, margin=dict(l=0, r=0, t=0, b=0), paper_bgcolor="white", plot_bgcolor="white", showlegend=False,
           font=dict(family=FONT, color="#222"))
for ax, left, right in (("", 15, 260), ("2", 283, 530), ("3", 551, 798)):
    lay["xaxis" + ax] = dict(panel_axis, domain=dom_x(left, right), range=[-1.12, 1.07], anchor="y" + ax)
    lay["yaxis" + ax] = dict(panel_axis, domain=dom_y(17, 245), range=[-1.11, 1.05], anchor="x" + ax, tickangle=-90, ticklabelstandoff=-3)
lay["xaxis4"] = dict(domain=dom_x(213, 671), anchor="y4", type="category", side="bottom", tickangle=-90, ticks="", showgrid=False, zeroline=False,
                     showline=False, tickfont=dict(family=FONT, size=5, color="#333"), automargin=False, tickmode="array", tickvals=marks, ticktext=marks)
lay["yaxis4"] = dict(domain=dom_y(287, 414), anchor="x4", type="category", side="right", autorange="reversed", ticks="", showgrid=False,
                     showline=False, zeroline=False, tickfont=dict(family=FONT, size=7, color="#333"), automargin=False, ticklabelstandoff=3)
lay["xaxis5"] = dict(domain=dom_x(145, 160), anchor="y5", range=[44, -2], tickvals=[0, 10, 20, 30], ticktext=["0", "", "", "30"], tickangle=180,
                     ticks="outside", ticklen=3, tickwidth=0.6, tickcolor="#444", showgrid=False, zeroline=False, showline=False, automargin=False,
                     tickfont=dict(family=FONT, size=5.5, color="#333"))
lay["yaxis5"] = dict(domain=dom_y(282, 434), anchor="x5", side="right", range=[-8.3, 8.3], tickvals=[-5, 0, 5], ticktext=["\u22125", "0", "5"], tickangle=-90,
                     ticks="outside", ticklen=3, tickwidth=0.6, tickcolor="#444", showgrid=False, zeroline=False, showline=False, automargin=False,
                     tickfont=dict(family=FONT, size=5.5, color="#333"))


def note(x, y, text, size, anchor="left", bold=False, angle=0):
    fig.add_annotation(x=x / W, y=1 - y / H, xref="paper", yref="paper", text="<b>%s</b>" % text if bold else text, showarrow=False,
                       xanchor=anchor, yanchor="middle", textangle=angle, font=dict(family=FONT, size=size, color="#111"))


shapes = []
note(2, 9, "A", 16, bold=True)
note(2, 287, "B", 16, bold=True)
note(141, 353, "Color Key<br>and Histogram", 6.4, "center", True, -90)
note(176, 358, "Value", 7, "center", False, -90)
note(153, 451, "Count", 7, "center", False, 180)

for title_x, dot_x, text_x in ((459, 481, 487), (727, 749, 754)):
    note(title_x, 134, "Cluster: # of elements", 6.9)
    for i, name in enumerate(cluster_names):
        y = 145 + i * 8.45
        note(text_x, y, name, 6.9)
        shapes.append(dict(type="circle", xref="paper", yref="paper", x0=(dot_x - 1.8) / W, x1=(dot_x + 1.8) / W,
                           y0=1 - (y + 1.8) / H, y1=1 - (y - 1.8) / H, fillcolor=cluster_colors[i], line=dict(width=0)))

note(795, 23, "Avg expression", 6.9, "right")
for i, name in enumerate(expr_labels):
    y = 34 + i * 8.45
    shapes.append(dict(type="rect", xref="paper", yref="paper", x0=763 / W, x1=770 / W, y0=1 - (y + 3.6) / H, y1=1 - (y - 3.6) / H,
                       fillcolor=expr_colors[i], line=dict(width=0)))
    note(773, y, name, 6.9)

fig.update_layout(**lay, shapes=shapes)
fig.write_html("out.html", config=dict(displayModeBar=False), post_script="document.body.style.margin='0';")
